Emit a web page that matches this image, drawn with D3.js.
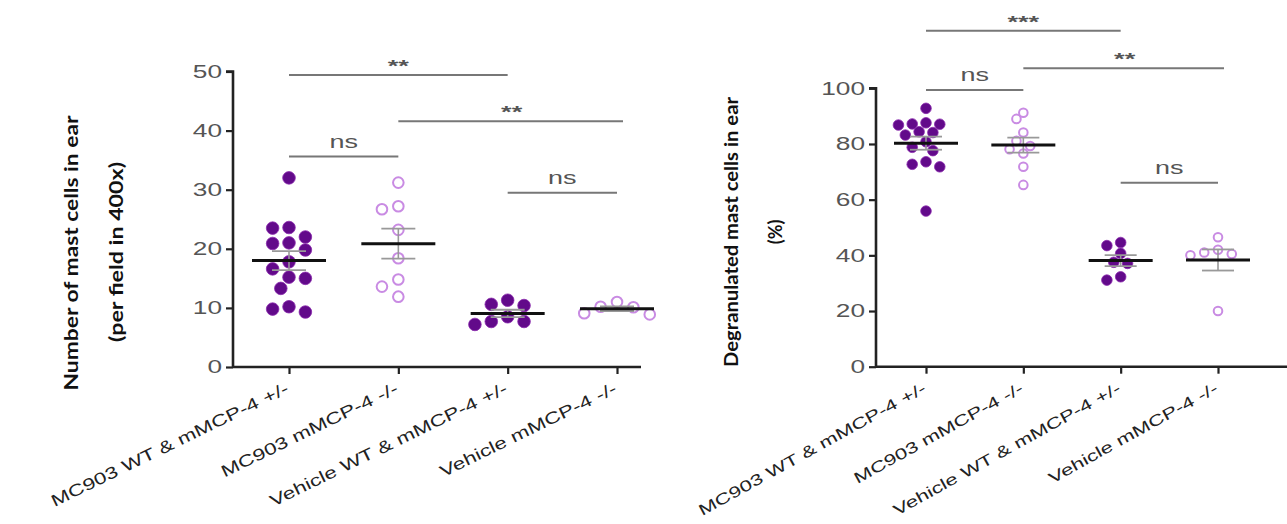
<!DOCTYPE html>
<html><head><meta charset="utf-8">
<script src="https://cdn.jsdelivr.net/npm/d3@7"></script>
<style>
body{margin:0;background:#fff;}
svg text{font-family:"Liberation Sans",Arial,sans-serif;}
</style></head>
<body><svg id="c" width="1287" height="524"></svg>
<script>
// ---------- DATA ----------
const categories = ["MC903 WT & mMCP-4 +/-","MC903 mMCP-4 -/-","Vehicle WT & mMCP-4 +/-","Vehicle mMCP-4 -/-"];
const filledGroup = [true,false,true,false];

// Left panel: number of mast cells per field
const countWT_MC903 = [32.0,22.0,23.5,23.6,20.9,21.0,19.8,17.8,16.6,15.0,15.2,13.3,10.2,9.3,9.8];
const countKO_MC903 = [31.2,26.7,27.2,23.2,18.4,14.8,13.6,11.9];
const countWT_Veh   = [10.6,10.4,11.3,7.7,7.2,7.7,8.5];
const countKO_Veh   = [10.1,8.9,11.0,9.1,10.2];
const leftTicks = [0,10,20,30,40,50];
const leftSig = [
  {from:0,to:2,y:49.4,label:"**"},
  {from:1,to:3,y:41.6,label:"**"},
  {from:0,to:1,y:35.6,label:"ns"},
  {from:2,to:3,y:29.5,label:"ns"}
];

// Right panel: % degranulated mast cells
const degWT_MC903 = [92.8,87.1,86.8,87.2,87.6,84.1,83.2,84.4,80.8,77.6,78.8,72.7,71.8,73.6,55.9];
const degKO_MC903 = [89.0,91.2,84.1,81.1,79.3,78.1,76.6,71.8,65.3];
const degWT_Veh   = [43.5,44.6,40.7,37.5,37.1,31.1,32.3];
const degKO_Veh   = [46.5,41.0,40.5,40.0,42.0,20.0];
const rightTicks = [0,20,40,60,80,100];
const rightSig = [
  {from:0,to:2,y:120.7,label:"***"},
  {from:1,to:3,y:107.2,label:"**"},
  {from:0,to:1,y:99.4,label:"ns"},
  {from:2,to:3,y:66.1,label:"ns"}
];

// ---------- DRAW ----------
const svg = d3.select("#c");
const DARK = "#620a8a", LIGHT = "#c98be3";
const STRETCH = 1.42; // horizontally widened lettering of the original

function widen(sel, f){
  sel.each(function(){
    const L = this.getComputedTextLength();
    d3.select(this).attr("textLength", L*f).attr("lengthAdjust","spacingAndGlyphs");
  });
}
function fitTo(sel, len){
  sel.attr("textLength", len).attr("lengthAdjust","spacingAndGlyphs");
}

function beeswarm(vals, y, r, tight) {
  const placed = [];
  const order = vals.map((v,i)=>({v,i})).sort((a,b)=>b.v-a.v);
  const out = new Array(vals.length);
  const step = r*1.3;
  for (const p of order) {
    const py = y(p.v);
    let best = 0;
    for (let k=0;k<20;k++){
      const cands = k===0?[0]:[-k*step,k*step];
      let ok=null;
      for (const c of cands){
        if (placed.every(q=>Math.hypot(q.x-c,q.y-py)>=2*r*tight)) {ok=c;break;}
      }
      if (ok!==null){best=ok;break;}
    }
    placed.push({x:best,y:py});
    out[p.i]=best;
  }
  return out;
}

function panel(opt){
  const g = svg.append("g");
  const y = d3.scaleLinear().domain([0,opt.max]).range([opt.y0,opt.y1]);
  const x = d3.scalePoint().domain(categories).range([opt.xa,opt.xb]);
  // y axis
  const ya = g.append("g").attr("transform",`translate(${opt.ax},0)`)
    .call(d3.axisLeft(y).tickValues(opt.ticks).tickSize(7).tickPadding(4));
  ya.select(".domain").attr("stroke","#222").attr("stroke-width",2.6).attr("d",`M-7,${opt.y1}H0V${opt.y0}`);
  ya.selectAll(".tick line").attr("stroke","#222").attr("stroke-width",2.2);
  ya.selectAll(".tick text").attr("fill","#555").style("font-size","18.5px");
  widen(ya.selectAll(".tick text"), STRETCH);
  // x axis
  const xa = g.append("g").attr("transform",`translate(0,${opt.y0})`)
    .call(d3.axisBottom(x).tickSize(7).tickPadding(6));
  xa.select(".domain").attr("stroke","#222").attr("stroke-width",2.6).attr("d",`M${opt.ax},0H${opt.xend}`);
  xa.selectAll(".tick line").attr("stroke","#222").attr("stroke-width",2.2);
  const xt = xa.selectAll(".tick text").attr("fill","#222").style("font-size",opt.xfs+"px")
    .attr("text-anchor","end").attr("x",0).attr("y",0).attr("dy","0.35em")
    .attr("transform",`translate(-2,20) rotate(${opt.xrot})`);
  widen(xt, opt.xstretch);
  // points
  opt.groups.forEach((vals,gi)=>{
    const cx = x(categories[gi]);
    const offs = beeswarm(vals,y,opt.r,opt.tight);
    const m = d3.mean(vals), sem = d3.deviation(vals)/Math.sqrt(vals.length);
    const gg = g.append("g");
    gg.selectAll("circle").data(vals).join("circle")
      .attr("cx",(d,i)=>cx+offs[i]).attr("cy",d=>y(d))
      .attr("r",filledGroup[gi]?opt.r:opt.r-1)
      .attr("fill",filledGroup[gi]?DARK:"#fff")
      .attr("stroke",filledGroup[gi]?"#8a2aad":LIGHT)
      .attr("stroke-width",filledGroup[gi]?0.8:2);
    gg.append("line").attr("x1",cx).attr("x2",cx).attr("y1",y(m-sem)).attr("y2",y(m+sem)).attr("stroke","#999").attr("stroke-width",1.6);
    [m-sem,m+sem].forEach(v=>gg.append("line").attr("x1",cx-opt.ew).attr("x2",cx+opt.ew).attr("y1",y(v)).attr("y2",y(v)).attr("stroke","#999").attr("stroke-width",1.8));
    gg.append("line").attr("x1",cx-opt.mw).attr("x2",cx+opt.mw).attr("y1",y(m)).attr("y2",y(m)).attr("stroke","#111").attr("stroke-width",3);
  });
  // significance
  opt.sig.forEach(s=>{
    const x1 = x(categories[s.from]), x2 = x(categories[s.to]);
    g.append("line").attr("x1",x1).attr("x2",x2+(s.from%2?6:0)).attr("y1",y(s.y)).attr("y2",y(s.y))
      .attr("stroke","#777").attr("stroke-width",2);
    const isStar = s.label.indexOf("*")>=0;
    const t = g.append("text").attr("x",(x1+x2)/2+(s.from%2?4:0)).attr("y",y(s.y)-(isStar?3:9))
      .attr("text-anchor","middle").attr("fill","#555")
      .style("font-size",isStar?"17px":"19px").style("font-weight",isStar?"bold":"normal")
      .text(s.label);
    widen(t, isStar?1.6:STRETCH);
  });
  // y labels
  opt.labels.forEach(l=>{
    const t = g.append("text").attr("transform",`translate(${l.x},${l.y}) rotate(-90)`)
      .attr("text-anchor","middle").attr("dominant-baseline","middle")
      .attr("fill","#111").style("font-family","Lato, sans-serif").style("font-weight","bold").style("font-size","18px")
      .text(l.t);
    if (l.len) fitTo(t, l.len);
  });
}

panel({max:50,y0:367,y1:71.5,xa:289,xb:617,ax:233,xend:641,ticks:leftTicks,xfs:16.5,xrot:-26,xstretch:1.36,
  groups:[countWT_MC903,countKO_MC903,countWT_Veh,countKO_Veh],r:6.3,tight:1.02,mw:37,ew:17,sig:leftSig,
  labels:[{x:73,y:253,t:"Number of mast cells in ear",len:275},{x:118,y:252,t:"(per field in 400x)",len:180}]});
panel({max:100,y0:366.7,y1:88.3,xa:926,xb:1218,ax:876,xend:1287,ticks:rightTicks,xfs:15.5,xrot:-29,xstretch:1.42,
  groups:[degWT_MC903,degKO_MC903,degWT_Veh,degKO_Veh],r:5.3,tight:0.85,mw:32,ew:16,sig:rightSig,
  labels:[{x:733,y:232,t:"Degranulated mast cells in ear",len:270},{x:777,y:232,t:"(%)"}]});
</script></body></html>
